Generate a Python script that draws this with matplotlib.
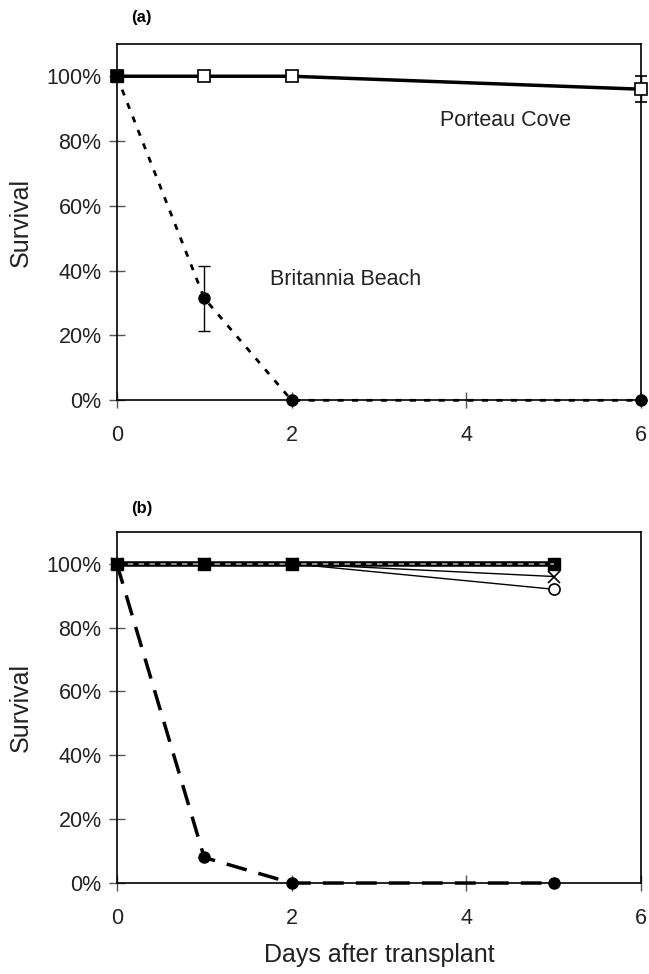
import matplotlib
matplotlib.use('Agg')
import matplotlib.pyplot as plt
from matplotlib.ticker import FuncFormatter

plt.rcParams['font.family'] = ['Liberation Sans', 'DejaVu Sans']

# (a) 데이터
days_a = [0, 1, 2, 6]
porteau = [100, 100, 100, 96]
porteau_err = [0, 0, 0, 4]
britannia = [100, 31.5, 0, 0]
britannia_err = [0, 10, 0, 0]

# (b) 데이터
days_b = [0, 1, 2, 5]
b_square = [100, 100, 100, 100]
b_circle_top = [100, 100, 100, 100]
b_cross = [100, 100, 100, 96]
b_open = [100, 100, 100, 92]
b_drop = [100, 8, 0, 0]

xticks = [0, 2, 4, 6]
yticks = [0, 20, 40, 60, 80, 100]

fig = plt.figure(figsize=(6.49, 9.74), dpi=100)
ax1 = fig.add_axes([0.180, 0.589, 0.808, 0.366])
ax2 = fig.add_axes([0.180, 0.0934, 0.808, 0.3606])

def style(ax):
    ax.set_xlim(0, 6)
    ax.set_ylim(0, 110)
    ax.set_xticks(xticks)
    ax.set_yticks(yticks)
    ax.yaxis.set_major_formatter(FuncFormatter(lambda v, p: f'{v:.0f}%'))
    ax.tick_params(direction='inout', length=12, width=1, color='#555555',
                   labelsize=15.5, colors='#222222')
    ax.tick_params(axis='y', pad=5)
    ax.tick_params(axis='x', pad=12)
    for s in ax.spines.values():
        s.set_linewidth(1.2)
    ax.set_ylabel('Survival', fontsize=18, color='#222222', labelpad=10)

# (a)
ax1.errorbar(days_a, britannia, yerr=britannia_err, color='black', lw=2,
             ls=(0, (2.2, 3)), marker='o', ms=8, capsize=4, elinewidth=1,
             ecolor='black', zorder=3, clip_on=False)
ax1.errorbar(days_a, porteau, yerr=porteau_err, color='black', lw=2.5,
             ls='-', marker='s', ms=8, mfc='white', mec='black', mew=1.2,
             capsize=4, elinewidth=1, ecolor='black', zorder=4, clip_on=False)
ax1.plot(days_a[:1], porteau[:1], marker='s', ms=9, color='black', ls='none',
         zorder=5, clip_on=False)
ax1.text(3.7, 84.5, 'Porteau Cove', fontsize=15.5, color='#222222')
ax1.text(1.75, 35.5, 'Britannia Beach', fontsize=15.5, color='#222222')
style(ax1)
fig.text(0.202, 0.982, '(a)', fontsize=12, fontweight='bold', ha='left', va='center')

# (b)
ax2.plot(days_b, b_square, color='black', lw=4, marker='s', ms=8,
         mfc='black', mec='black', zorder=3, clip_on=False)
ax2.plot(days_b, b_circle_top, color='#999999', lw=1.3, ls=(0, (3, 3)),
         zorder=4, clip_on=False)
ax2.plot(days_b[:3], b_circle_top[:3], color='black', ls='none',
         marker='o', ms=8, zorder=5, clip_on=False)
ax2.plot(days_b, b_cross, color='black', lw=1, marker='x', ms=8, mew=1.2,
         zorder=2, clip_on=False)
ax2.plot(days_b, b_open, color='black', lw=1, marker='o', ms=8, mfc='white',
         mec='black', mew=1.2, zorder=2, clip_on=False)
ax2.plot(days_b, b_drop, color='black', lw=2.5, ls=(0, (6, 3.5)), marker='o',
         ms=8, zorder=4, clip_on=False)
style(ax2)
ax2.set_xlabel('Days after transplant', fontsize=18, color='#222222', labelpad=10)
fig.text(0.202, 0.478, '(b)', fontsize=12, fontweight='bold', ha='left', va='center')

fig.savefig('out.png', dpi=100)
